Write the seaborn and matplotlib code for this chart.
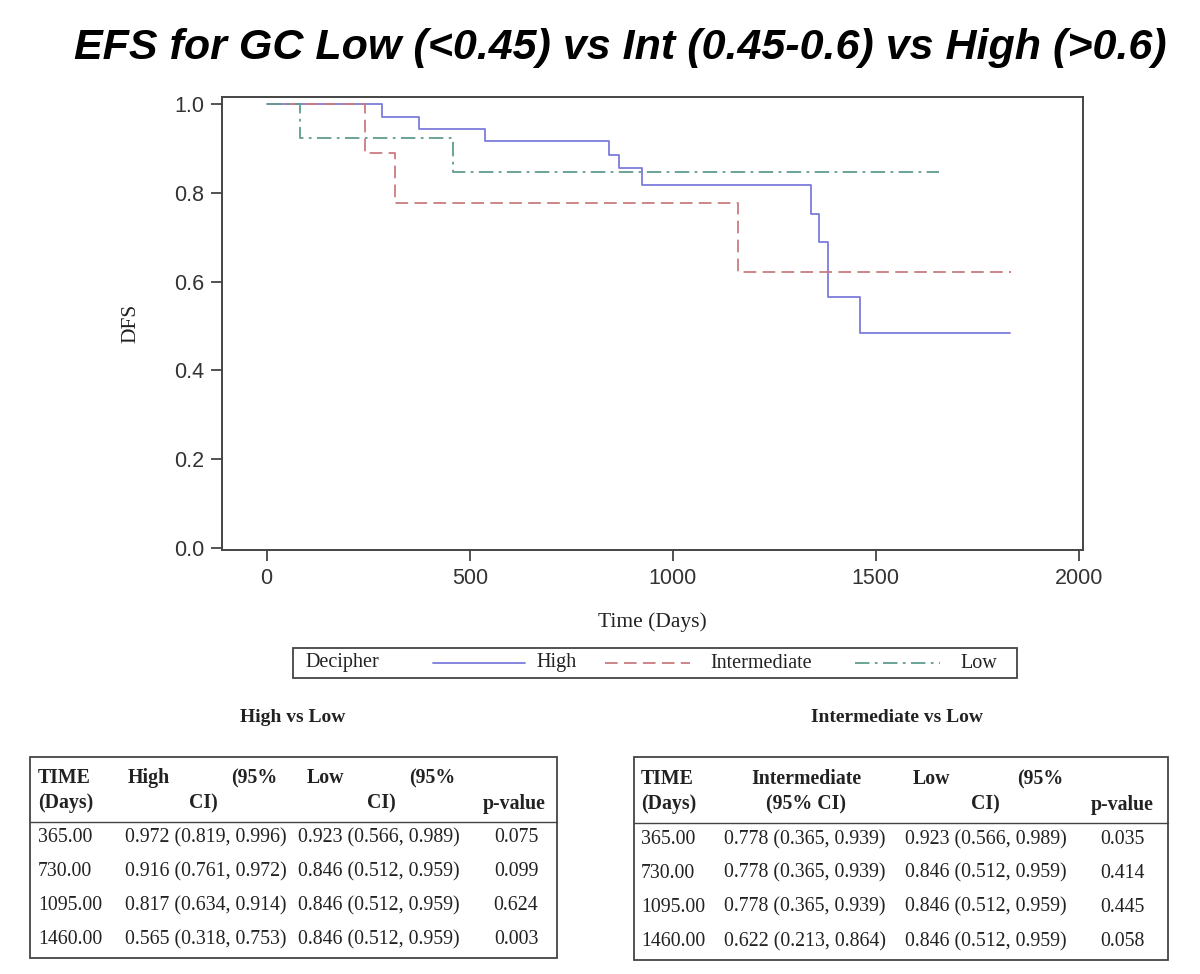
# Curvas de supervivencia EFS por grupo Decipher + tablas de comparación

import numpy as np
import pandas as pd
import matplotlib
matplotlib.use("Agg")
import matplotlib.pyplot as plt
from matplotlib.patches import Rectangle
from matplotlib.lines import Line2D
import seaborn as sns

# ---- datos de las curvas ----
grupos = ["High", "Intermediate", "Low"]
t_high = [0, 285, 374, 538, 844, 868, 925, 1340, 1360, 1382, 1462, 1830]
s_high = [1.0, 0.972, 0.944, 0.916, 0.886, 0.855, 0.817, 0.752, 0.690, 0.565, 0.484, 0.484]
t_int = [0, 241, 315, 1160, 1832]
s_int = [1.0, 0.889, 0.778, 0.622, 0.622]
t_low = [0, 83, 458, 1655]
s_low = [1.0, 0.923, 0.846, 0.846]

# ---- datos de las tablas ----
tiempos = ["365.00", "730.00", "1095.00", "1460.00"]
high_ci = ["0.972 (0.819, 0.996)", "0.916 (0.761, 0.972)",
           "0.817 (0.634, 0.914)", "0.565 (0.318, 0.753)"]
low_ci = ["0.923 (0.566, 0.989)", "0.846 (0.512, 0.959)",
          "0.846 (0.512, 0.959)", "0.846 (0.512, 0.959)"]
p_high_low = ["0.075", "0.099", "0.624", "0.003"]
int_ci = ["0.778 (0.365, 0.939)", "0.778 (0.365, 0.939)",
          "0.778 (0.365, 0.939)", "0.622 (0.213, 0.864)"]
p_int_low = ["0.035", "0.414", "0.445", "0.058"]

colores = {"High": "#7c7cdc", "Intermediate": "#c97b7f", "Low": "#5f9c8f"}
guiones = {"High": "", "Intermediate": (7, 3.5), "Low": (8, 3, 1.5, 3)}

df = pd.concat([
    pd.DataFrame({"Time": t_high, "Surv": s_high, "Decipher": "High"}),
    pd.DataFrame({"Time": t_int, "Surv": s_int, "Decipher": "Intermediate"}),
    pd.DataFrame({"Time": t_low, "Surv": s_low, "Decipher": "Low"}),
], ignore_index=True)

W, H = 1200, 974
sns.set_style("white")
plt.rcParams["font.family"] = ["Liberation Sans", "DejaVu Sans"]
plt.rcParams["text.color"] = "black"

fig = plt.figure(figsize=(12, 9.74), dpi=100)
ax = fig.add_axes([222 / W, 1 - 550 / H, (1083 - 222) / W, (550 - 97) / H])

sns.lineplot(data=df, x="Time", y="Surv", hue="Decipher", style="Decipher",
             hue_order=grupos, style_order=grupos, palette=colores,
             dashes=guiones, drawstyle="steps-post", estimator=None,
             linewidth=1.3, legend=False, ax=ax)

ax.set_xlim(-110, 2010)
ax.set_ylim(-0.005, 1.016)
ax.set_xticks([0, 500, 1000, 1500, 2000])
ax.set_yticks([0.0, 0.2, 0.4, 0.6, 0.8, 1.0])
ax.set_yticklabels([f"{v:.1f}" for v in [0.0, 0.2, 0.4, 0.6, 0.8, 1.0]])
ax.tick_params(axis="both", direction="out", length=8, width=1.3,
               color="#444444", labelsize=15.5, labelcolor="#333333", pad=5,
               bottom=True, left=True)
for sp in ax.spines.values():
    sp.set_color("#444444")
    sp.set_linewidth(1.4)
ax.set_xlabel("Time (Days)", family="Liberation Serif", fontsize=15.5,
              labelpad=17, color="#222222")
ax.set_ylabel("DFS", family="Liberation Serif", fontsize=15.5, labelpad=24,
              color="#222222")


def px(x, y):
    return x / W, 1 - y / H


def txt(x, y, s, **kw):
    kw.setdefault("va", "center")
    kw.setdefault("family", "Liberation Serif")
    kw.setdefault("fontsize", 14.3)
    kw.setdefault("color", "#222222")
    fig.text(*px(x, y), s, **kw)


def caja(x0, y0, x1, y1):
    fig.patches.append(Rectangle(px(x0, y1), (x1 - x0) / W, (y1 - y0) / H,
                                 transform=fig.transFigure, fill=False,
                                 edgecolor="#444444", linewidth=1.3))


def linea(x0, x1, y):
    fig.lines.append(Line2D([x0 / W, x1 / W], [1 - y / H, 1 - y / H],
                            transform=fig.transFigure, color="#444444", lw=1.0))


# titulo
txt(620, 48, "EFS for GC Low (<0.45) vs Int (0.45-0.6) vs High (>0.6)",
    family="Liberation Sans", fontsize=31, weight="bold", style="italic",
    ha="center", color="black")

# leyenda dibujada a mano
caja(293, 648, 1017, 678)
txt(305, 663, "Decipher", fontsize=14.5)
seg = {"High": (433, 525), "Intermediate": (605, 690), "Low": (855, 940)}
lab_x = {"High": 536, "Intermediate": 710, "Low": 960}
for g in grupos:
    ln = Line2D([seg[g][0] / W, seg[g][1] / W], [1 - 663 / H, 1 - 663 / H],
                transform=fig.transFigure, color=colores[g], lw=1.3)
    if guiones[g]:
        ln.set_dashes(guiones[g])
    fig.lines.append(ln)
    txt(lab_x[g], 663, g, fontsize=14.5)

# ---- tabla izquierda: High vs Low ----
txt(293, 718, "High vs Low", weight="bold", ha="center", fontsize=14)
caja(30, 757, 557, 958)
linea(30, 557, 822)
txt(38, 778, "TIME", weight="bold")
txt(38, 803, "(Days)", weight="bold")
txt(128, 778, "High", weight="bold")
txt(277, 778, "(95%", weight="bold", ha="right")
txt(203, 803, "CI)", weight="bold", ha="center")
txt(307, 778, "Low", weight="bold")
txt(455, 778, "(95%", weight="bold", ha="right")
txt(381, 803, "CI)", weight="bold", ha="center")
txt(514, 804, "p-value", weight="bold", ha="center")
filas_y = [838, 872, 906, 940]
for i, y in enumerate(filas_y):
    txt(38, y, tiempos[i])
    txt(125, y, high_ci[i])
    txt(298, y, low_ci[i])
    txt(516, y, p_high_low[i], ha="center")

# ---- tabla derecha: Intermediate vs Low ----
txt(897, 718, "Intermediate vs Low", weight="bold", ha="center", fontsize=14)
caja(634, 757, 1168, 960)
linea(634, 1168, 823)
txt(641, 779, "TIME", weight="bold")
txt(641, 804, "(Days)", weight="bold")
txt(806, 779, "Intermediate", weight="bold", ha="center")
txt(806, 804, "(95% CI)", weight="bold", ha="center")
txt(913, 779, "Low", weight="bold")
txt(1063, 779, "(95%", weight="bold", ha="right")
txt(985, 804, "CI)", weight="bold", ha="center")
txt(1122, 805, "p-value", weight="bold", ha="center")
filas_y2 = [840, 873, 907, 942]
for i, y in enumerate(filas_y2):
    txt(641, y, tiempos[i])
    txt(724, y, int_ci[i])
    txt(905, y, low_ci[i])
    txt(1122, y, p_int_low[i], ha="center")

fig.savefig("out.png", dpi=100)
